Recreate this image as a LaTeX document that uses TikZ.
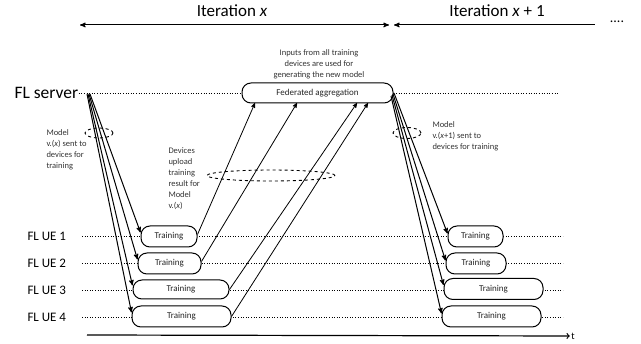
\documentclass[tikz,border=0pt]{standalone}
\usepackage{fontspec}
\setmainfont{Carlito}
\usetikzlibrary{arrows}

\begin{document}
\begin{tikzpicture}[>=stealth',x=1pt,y=-1pt,line width=1pt,
          train node/.style={draw,fill=white,rounded corners=9pt,minimum height=20pt,
                             inner sep=0pt,font=\fontsize{9}{11}\selectfont,text=black!85},
          big label/.style={font=\fontsize{17}{20}\selectfont},
          ue label/.style={anchor=west,inner sep=0pt,font=\fontsize{13}{15}\selectfont},
          small text/.style={align=left,anchor=north west,inner sep=0pt,
                             font=\fontsize{8.5}{11}\selectfont,text=black!80},
          time line/.style={dotted,line width=0.6pt},
          sel ring/.style={dashed,line width=0.9pt}]

        \useasboundingbox (0,0) rectangle (641,344);

        % iterations on top
        \coordinate (it0) at (80,25);
        \coordinate (it1) at (389,25);
        \coordinate (it2) at (394,25);
        \coordinate (it3) at (595,25);
        \draw[<->] (it0) -- (it1);
        \draw[<-] (it2) -- (it3);
        \node[big label] (iter1) at (232,11) {Iteration \textit{x}};
        \node[big label] (iter2) at (497,11) {Iteration \textit{x} + 1};
        \node[font=\fontsize{14}{16}\selectfont] (more) at (617,22) {....};

        % server row
        \node[anchor=west,inner sep=0pt,font=\fontsize{17.5}{20}\selectfont] (srv) at (14,93) {FL server};
        \coordinate (srvend) at (558,93);
        \draw[time line] (srv.east) -- (srvend);
        \node[train node,minimum width=151pt,minimum height=20pt] (agg) at (317.5,93) {Federated aggregation};
        \node[small text,anchor=south,align=center] (aggtxt) at (319,79)
            {Inputs from all training\\devices are used for\\generating the new model};

        % UE rows and time axis
        \foreach \i/\y in {1/236,2/263,3/290,4/317} {
          \node[ue label] (ue\i) at (27,\y) {FL UE \i};
          \coordinate (end\i) at (563,\y);
          \draw[time line] (82,\y) -- (end\i);
        }
        \coordinate (t0) at (87,335);
        \node[inner sep=1pt,font=\fontsize{10}{12}\selectfont] (tlbl) at (573,336) {t};
        \draw[-to,line width=1.2pt] (t0) -- (tlbl.west);

        % training, iteration x
        \node[train node,minimum width=56pt,minimum height=21pt] (a1) at (169,236.5) {Training};
        \node[train node,minimum width=63pt,minimum height=21pt] (a2) at (169.5,263.5) {Training};
        \node[train node,minimum width=96pt,minimum height=19pt] (a3) at (181,289.5) {Training};
        \node[train node,minimum width=99pt,minimum height=21pt] (a4) at (181.5,316.5) {Training};

        % training, iteration x+1
        \node[train node,minimum width=55pt,minimum height=21pt] (b1) at (475.5,236.5) {Training};
        \node[train node,minimum width=60pt,minimum height=21pt] (b2) at (476,263.5) {Training};
        \node[train node,minimum width=99pt,minimum height=21pt] (b3) at (493.5,289) {Training};
        \node[train node,minimum width=99pt,minimum height=21pt] (b4) at (491.5,316.5) {Training};

        % model download, iteration x
        \coordinate (s1) at (90,94);
        \coordinate (s2) at (89,94);
        \coordinate (s3) at (88,94);
        \coordinate (s4) at (87,94);
        \path[->]
        (s1) edge ([yshift=4pt]a1.west)
        (s2) edge ([yshift=4pt]a2.west)
        (s3) edge ([yshift=4pt]a3.west)
        (s4) edge ([yshift=4pt]a4.west);

        % model download, iteration x+1
        \coordinate (r1) at (394,93);
        \coordinate (r2) at (393,94);
        \coordinate (r3) at (392,95);
        \coordinate (r4) at (391,96);
        \path[->]
        (r1) edge ([yshift=3pt]b1.west)
        (r2) edge ([yshift=3pt]b2.west)
        (r3) edge ([yshift=4pt]b3.west)
        (r4) edge ([yshift=3pt]b4.west);

        % upload of results
        \coordinate (u1) at (255,103);
        \coordinate (u2) at (297,103);
        \coordinate (u3) at (357,103);
        \coordinate (u4) at (368,103);
        \path[->,line width=0.8pt]
        ([yshift=2pt]a1.east) edge (u1)
        ([yshift=2pt]a2.east) edge (u2)
        (a3.east) edge (u3)
        (a4.east) edge (u4);

        % dashed rings and notes
        \draw[sel ring] (99,133) ellipse (14pt and 5pt);
        \draw[sel ring] (271,175.5) ellipse (64pt and 5.5pt);
        \draw[sel ring] (407,133) ellipse (14pt and 5.5pt);
        \node[small text] (note1) at (46,129) {Model\\v.(\textit{x}) sent to\\devices for\\training};
        \node[small text] (note2) at (168,147) {Devices\\upload\\training\\result for\\Model\\v.(\textit{x})};
        \node[small text] (note3) at (432,121) {Model\\v.(\textit{x}+1) sent to\\devices for training};
      \end{tikzpicture}
\end{document}
